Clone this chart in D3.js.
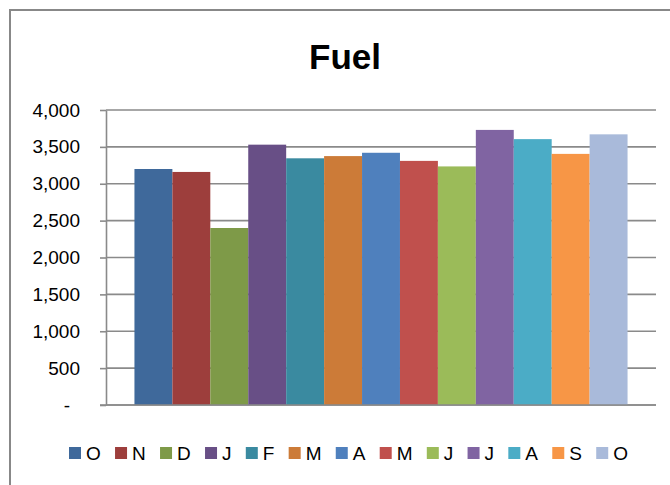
<!DOCTYPE html>
<html><head><meta charset="utf-8">
<script src="https://cdn.jsdelivr.net/npm/d3@7"></script>
<style>
html,body{margin:0;padding:0;background:#fff;}
svg{display:block;font-family:"Liberation Sans",Arial,sans-serif;}
</style></head>
<body>
<svg id="chart" width="670" height="485"></svg>
<script>
const title = "Fuel";
const months = ["O","N","D","J","F","M","A","M","J","J","A","S","O"];
const values = [3200,3160,2400,3530,3345,3375,3420,3310,3235,3730,3605,3405,3670];
const colors = ["#3F699B","#9D3E3C","#7E9A48","#684F86","#3A8AA0","#CC7B38","#4F80BD","#C0504D","#9BBB59","#8064A2","#4BACC6","#F79646","#A9BADA"];
const yTicks = [0,500,1000,1500,2000,2500,3000,3500,4000];

const svg = d3.select("#chart");
const W = 670, H = 485;
const m = {left:106, right:14, top:110, bottom:80};
const x0 = m.left, x1 = W - m.right, y0 = H - m.bottom, yTop = m.top;

// chart border
svg.append("rect").attr("x",10).attr("y",10).attr("width",700).attr("height",520)
  .attr("fill","#fff").attr("stroke","#888").attr("stroke-width",2);

const idx = months.map((d,i)=>i);
const x = d3.scaleBand().domain(idx).range([x0,x1]).paddingInner(0).paddingOuter(0.75);
const y = d3.scaleLinear().domain([0,4000]).range([y0,yTop]);

// gridlines
svg.append("g").selectAll("line").data(yTicks).join("line")
  .attr("x1",x0).attr("x2",x1).attr("y1",d=>y(d)).attr("y2",d=>y(d))
  .attr("stroke","#8a8a8a").attr("stroke-width",1.6);

// bars
svg.append("g").selectAll("rect").data(values).join("rect")
  .attr("x",(d,i)=>x(i)).attr("width",x.bandwidth())
  .attr("y",d=>y(d)).attr("height",d=>y(0)-y(d))
  .attr("fill",(d,i)=>colors[i]);

// y axis
const fmt = d3.format(",");
const ax = svg.append("g").attr("transform",`translate(${x0},0)`)
  .call(d3.axisLeft(y).tickValues(yTicks).tickSizeInner(6).tickSizeOuter(0).tickPadding(20)
    .tickFormat(d=> d===0 ? "-" : fmt(d)));
ax.select(".domain").attr("stroke","#8a8a8a").attr("stroke-width",1.6);
ax.selectAll(".tick line").attr("stroke","#8a8a8a").attr("stroke-width",1.6);
ax.selectAll(".tick text").attr("font-size",19).attr("fill","#000")
  .attr("font-family","'Liberation Sans',Arial,sans-serif");
ax.selectAll(".tick text").filter(d=>d===0).attr("dx",-10);

// baseline extended
svg.append("line").attr("x1",x0-6).attr("x2",x1).attr("y1",y(0)).attr("y2",y(0))
  .attr("stroke","#8a8a8a").attr("stroke-width",1.6);

// title
svg.append("text").attr("x",345).attr("y",69).attr("text-anchor","middle")
  .attr("font-size",35).attr("font-weight","bold").attr("fill","#000").text(title);

// legend
const lg = svg.append("g");
const items = lg.selectAll("g").data(months).join("g");
items.append("rect").attr("width",12).attr("height",12).attr("y",-6)
  .attr("fill",(d,i)=>colors[i]);
items.append("text").attr("x",17).attr("y",7).attr("font-size",19).attr("fill","#000").text(d=>d);
const widths = [];
items.each(function(){ widths.push(17 + d3.select(this).select("text").node().getComputedTextLength()); });
const legStart = 69, legEnd = 628;
const gap = (legEnd - legStart - d3.sum(widths)) / (months.length - 1);
let cx = 0;
items.each(function(d,i){
  d3.select(this).attr("transform",`translate(${cx},0)`);
  cx += widths[i] + gap;
});
lg.attr("transform",`translate(${legStart},453)`);
</script>
</body></html>
